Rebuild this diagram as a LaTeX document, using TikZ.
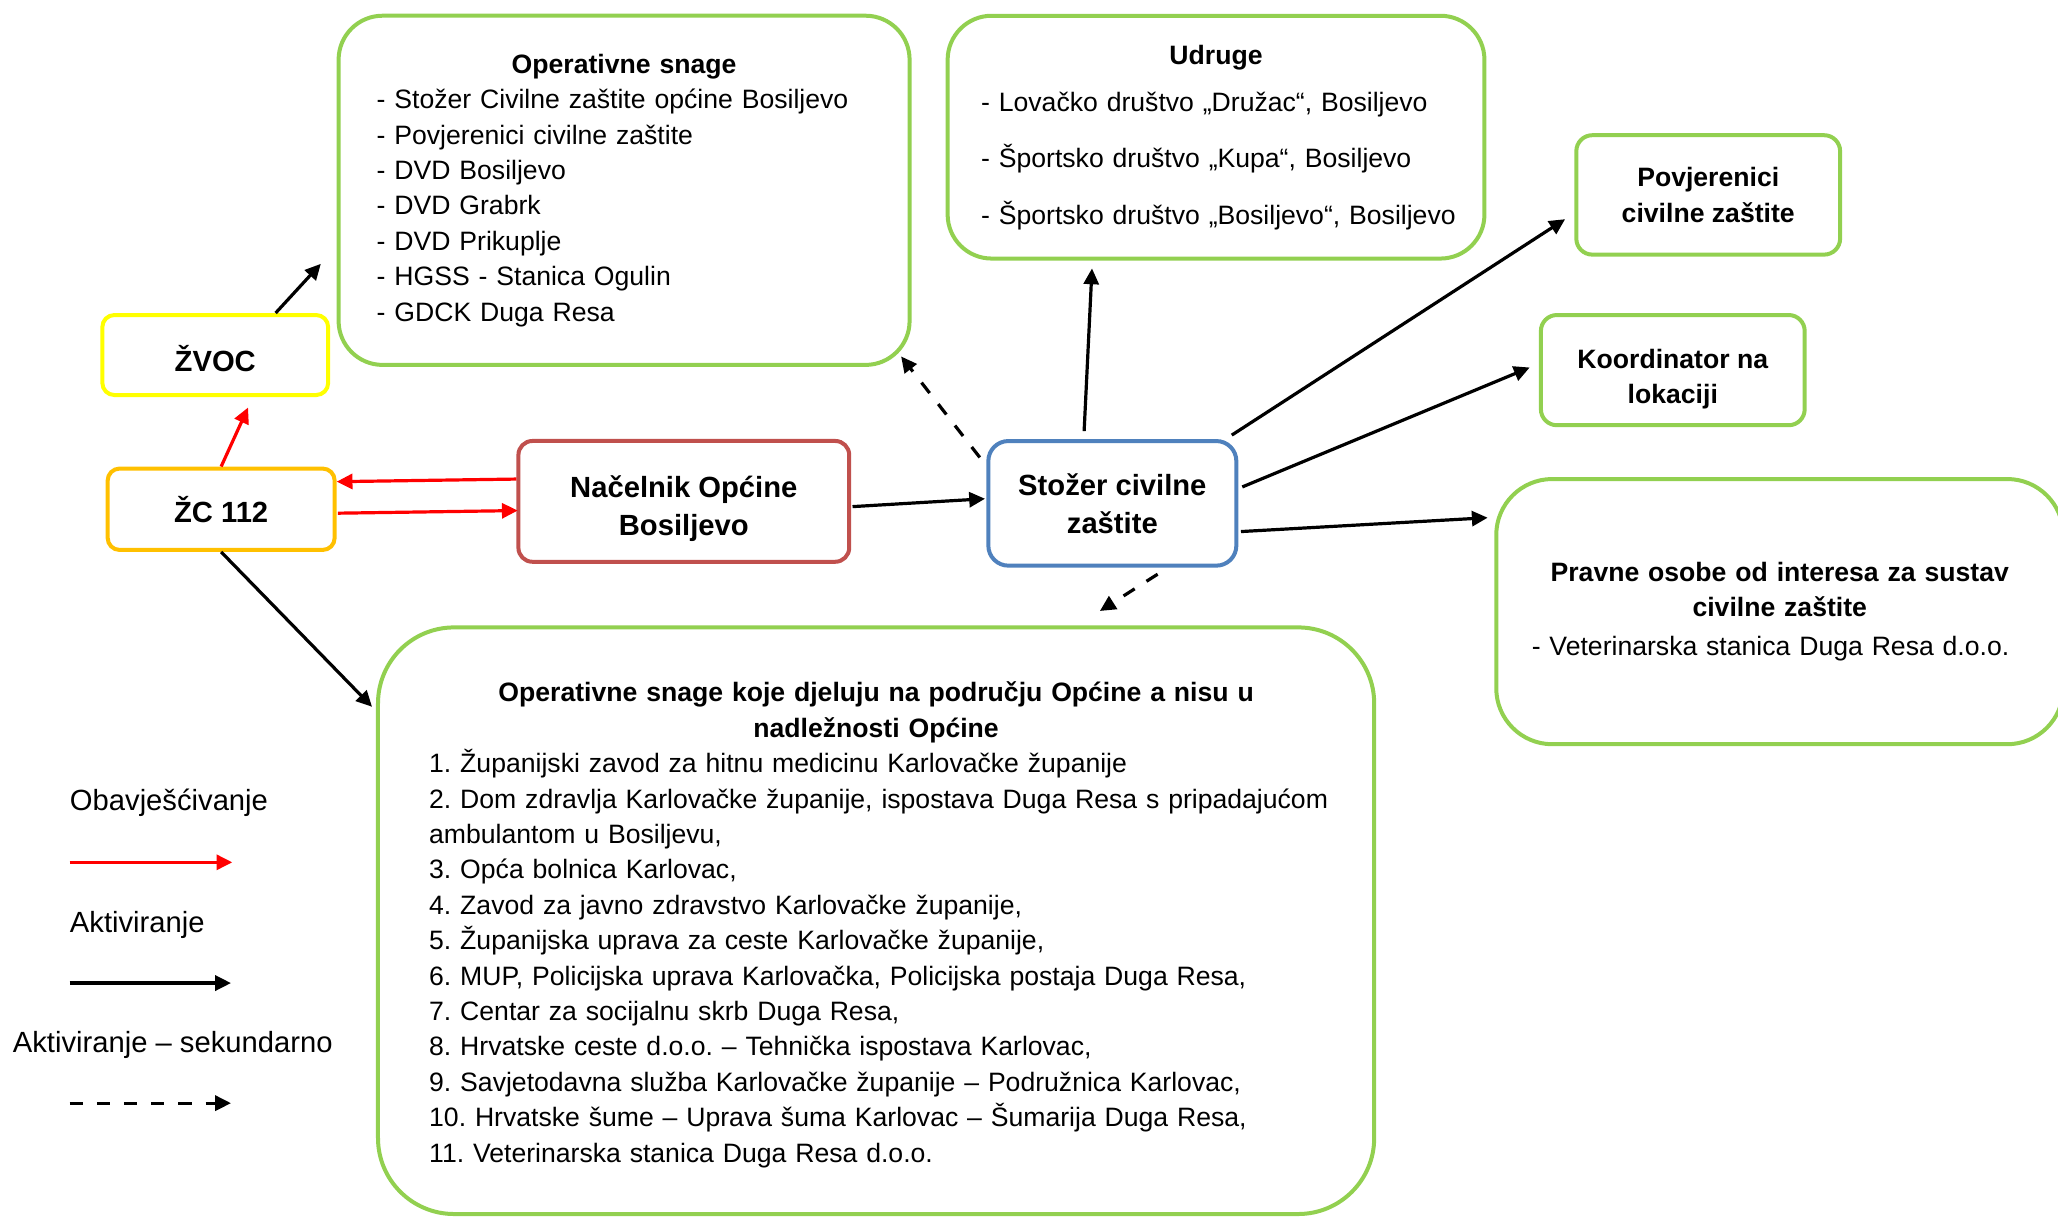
\documentclass[tikz,border=0pt]{standalone}
\usepackage{fontspec}
\setmainfont{Liberation Sans}
\usetikzlibrary{arrows.meta}
\frenchspacing

\definecolor{boxgreen}{HTML}{92D050}
\definecolor{boxyellow}{HTML}{FFFF00}
\definecolor{boxorange}{HTML}{FFC000}
\definecolor{boxred}{HTML}{C0504D}
\definecolor{boxblue}{HTML}{4F81BD}
\definecolor{arrred}{HTML}{FF0000}

\newcommand{\fsnormal}{\fontsize{13.3pt}{17.7pt}\selectfont}
\newcommand{\fslarge}{\fontsize{14.6pt}{19pt}\selectfont}
% struts to place text lines inside the boxes
\newcommand{\topstrut}[1]{\rule{0pt}{#1}}
\newcommand{\botstrut}[1]{\rule[-#1]{0pt}{0pt}}

\tikzset{
  box/.style={draw=#1, line width=2pt, fill=white, inner sep=0pt, align=center},
  inform/.style={arrred, line width=1.6pt, -{Triangle[length=7.9pt,width=7.5pt]}},
  activ/.style={black, line width=1.6pt, -{Triangle[length=7.9pt,width=7.5pt]}},
  secund/.style={activ, dash pattern=on 6.6pt off 7pt},
  legtext/.style={anchor=west, inner sep=0pt, font=\fslarge}
}

\begin{document}
\begin{tikzpicture}[x=0.65625pt, y=-0.65625pt, font=\fsnormal]
    \useasboundingbox (0,0) rectangle (1568,927);
    % boxes on top
    \node[box=boxgreen, rounded corners=22pt, minimum width=285.5pt, minimum height=174.6pt,
          text width=247.4pt, align=left] (ops) at (475.5,145)
        {\makebox[\linewidth]{\bfseries Operativne snage}\\
         - Stožer Civilne zaštite općine Bosiljevo\\
         - Povjerenici civilne zaštite\\
         - DVD Bosiljevo\\
         - DVD Grabrk\\
         - DVD Prikuplje\\
         - HGSS - Stanica Ogulin\\
         - GDCK Duga Resa};
    \node[box=boxgreen, rounded corners=22pt, minimum width=268.4pt, minimum height=121.4pt,
          text width=234.9pt, align=left] (udruge) at (926.5,104.5)
        {\makebox[\linewidth]{\bfseries Udruge}\\[5.9pt]
         \mbox{- Lovačko društvo „Družac“, Bosiljevo}\\[10.5pt]
         \mbox{- Športsko društvo „Kupa“, Bosiljevo}\\[10.5pt]
         \mbox{- Športsko društvo „Bosiljevo“, Bosiljevo}};
    \node[box=boxgreen, rounded corners=8pt, minimum width=131.9pt, minimum height=59.7pt,
          font=\fsnormal\bfseries] (povj) at (1301.5,148.5) {Povjerenici\\civilne zaštite};
    \node[box=boxgreen, rounded corners=8pt, minimum width=131.9pt, minimum height=55.1pt,
          font=\fsnormal\bfseries] (koord) at (1274.5,282)
        {\topstrut{19pt}Koordinator na\\lokaciji\botstrut{3pt}};
    \node[box=boxgreen, rounded corners=28pt, minimum width=283.5pt, minimum height=132.6pt,
          text width=248pt, align=left] (pravne) at (1356,466)
        {\makebox[\linewidth]{\bfseries Pravne osobe od interesa za sustav}\\
         \makebox[\linewidth]{\bfseries civilne zaštite}\\[2pt]
         - Veterinarska stanica Duga Resa d.o.o.};
    % main chain
    \node[box=boxyellow, rounded corners=6pt, minimum width=112.9pt, minimum height=40pt,
          font=\fslarge\bfseries] (zvoc) at (164,270.5) {\topstrut{16.5pt}ŽVOC};
    \node[box=boxorange, rounded corners=6pt, minimum width=113.5pt, minimum height=40.7pt,
          font=\fslarge\bfseries] (zc) at (168.5,388) {ŽC 112};
    \node[box=boxred, rounded corners=7pt, minimum width=165.4pt, minimum height=60.4pt,
          font=\fslarge\bfseries] (nacelnik) at (521,382)
        {\topstrut{18.6pt}Načelnik Općine\\Bosiljevo\botstrut{3.5pt}};
    \node[box=boxblue, rounded corners=10pt, minimum width=124pt, minimum height=62.3pt,
          font=\fslarge\bfseries] (stozer) at (847.5,383.5) {Stožer civilne\\zaštite};
    % bottom box
    \node[box=boxgreen, rounded corners=38pt, minimum width=498.1pt, minimum height=293.3pt,
          text width=446.9pt, align=left] (ostale) at (667.5,701.5)
        {\makebox[\linewidth]{\topstrut{14pt}\bfseries Operativne snage koje djeluju na području Općine a nisu u}\\
         \makebox[\linewidth]{\bfseries nadležnosti Općine}\\
         1. Županijski zavod za hitnu medicinu Karlovačke županije\\
         \mbox{2. Dom zdravlja Karlovačke županije, ispostava Duga Resa s pripadajućom}\\
         ambulantom u Bosiljevu,\\
         3. Opća bolnica Karlovac,\\
         4. Zavod za javno zdravstvo Karlovačke županije,\\
         5. Županijska uprava za ceste Karlovačke županije,\\
         \mbox{6. MUP, Policijska uprava Karlovačka, Policijska postaja Duga Resa,}\\
         7. Centar za socijalnu skrb Duga Resa,\\
         8. Hrvatske ceste d.o.o. – Tehnička ispostava Karlovac,\\
         \mbox{9. Savjetodavna služba Karlovačke županije – Podružnica Karlovac,}\\
         \mbox{10. Hrvatske šume – Uprava šuma Karlovac – Šumarija Duga Resa,}\\
         11. Veterinarska stanica Duga Resa d.o.o.};
    % connectors
    \draw[activ] ([shift={(46,0)}]zvoc.north) -- ([shift={(-12,56)}]ops.west);
    \draw[inform] (zc.north) -- ([shift={(25,8)}]zvoc.south);
    \draw[inform] ([shift={(0,-17)}]nacelnik.west) -- ([shift={(0,-21)}]zc.east);
    \draw[inform] ([shift={(1,3)}]zc.east) -- ([shift={(1,7)}]nacelnik.west);
    \draw[activ] (zc.south) -- ([shift={(-3,62)}]ostale.north west);
    \draw[activ] ([shift={(1,4)}]nacelnik.east) -- ([shift={(-1,-3.5)}]stozer.west);
    \draw[secund] ([shift={(-5,14)}]stozer.north west) -- ([shift={(-8,-8)}]ops.south east);
    \draw[activ] ([shift={(-21.5,-6)}]stozer.north) -- ([shift={(-94.5,6)}]udruge.south);
    \draw[activ] ([shift={(-5,-3)}]stozer.north east) -- ([shift={(-7,18.5)}]povj.west);
    \draw[activ] ([shift={(3,-12.5)}]stozer.east) -- ([shift={(-7,-2)}]koord.west);
    \draw[activ] ([shift={(2,21.5)}]stozer.east) -- ([shift={(-5,31)}]pravne.north west);
    \draw[secund] ([shift={(34.5,5)}]stozer.south) -- ([shift={(170.5,-11)}]ostale.north);
    % legend
    \node[legtext] (lgobav) at (53,612) {Obavješćivanje};
    \node[legtext] (lgakt) at (53,705) {Aktiviranje};
    \node[legtext] (lgsek) at (9.5,796) {Aktiviranje – sekundarno};
    \coordinate (lgobavA) at (53,657);
    \coordinate (lgobavB) at (177,657);
    \coordinate (lgaktA) at (53,749);
    \coordinate (lgaktB) at (176,749);
    \coordinate (lgsekA) at (53,840.5);
    \coordinate (lgsekB) at (176,840.5);
    \draw[inform] (lgobavA) -- (lgobavB);
    \draw[activ] (lgaktA) -- (lgaktB);
    \draw[secund] (lgsekA) -- (lgsekB);
\end{tikzpicture}
\end{document}
